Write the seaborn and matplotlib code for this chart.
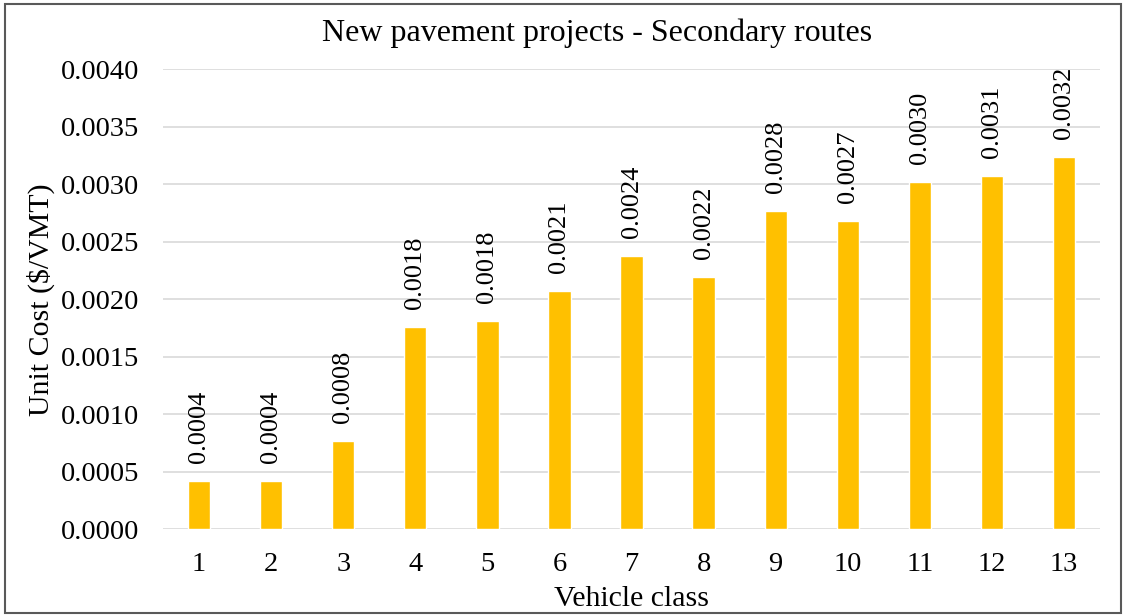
import pandas as pd
import seaborn as sns
import matplotlib.pyplot as plt
from matplotlib.patches import Rectangle

sns.set_theme(style="whitegrid")
plt.rcParams['font.family'] = ['Liberation Serif', 'DejaVu Serif']
plt.rcParams['text.color'] = 'black'
plt.rcParams['axes.labelcolor'] = 'black'

vehicle_class = ['1', '2', '3', '4', '5', '6', '7', '8', '9', '10', '11', '12', '13']
unit_cost = [0.00042, 0.00042, 0.00077, 0.00176, 0.00181, 0.00207, 0.00238,
             0.00219, 0.00277, 0.00268, 0.00302, 0.00307, 0.00324]
y_ticks = [0.0000, 0.0005, 0.0010, 0.0015, 0.0020, 0.0025, 0.0030, 0.0035, 0.0040]

df = pd.DataFrame({'Vehicle class': vehicle_class, 'Unit Cost': unit_cost})

fig = plt.figure(figsize=(11.25, 6.15), dpi=100)
ax = fig.add_axes([0.1449, 0.1393, 0.8329, 0.748])

sns.barplot(data=df, x='Vehicle class', y='Unit Cost', color='#FFC000',
            width=0.31, saturation=1, ax=ax)

# Datenbeschriftungen senkrecht über den Balken
for i, v in enumerate(unit_cost):
    ax.annotate(f'{v:.4f}', (i, v), xytext=(0, 13), textcoords='offset points',
                ha='center', va='bottom', rotation=90, fontsize=19)

ax.set_ylim(0, 0.004)
ax.set_yticks(y_ticks)
ax.set_yticklabels([f'{t:.4f}' for t in y_ticks])
ax.set_xlim(-0.5, len(vehicle_class) - 0.5)
ax.grid(axis='y', color='#d9d9d9', linewidth=1.2)
ax.grid(axis='x', visible=False)
ax.set_axisbelow(True)
for s in ax.spines.values():
    s.set_visible(False)
ax.tick_params(axis='both', length=0, labelsize=20.5, colors='black')
ax.tick_params(axis='x', pad=16)
ax.tick_params(axis='y', pad=17)

fig.text(597 / 1125, 1 - 33 / 615, 'New pavement projects - Secondary routes',
         fontsize=23, ha='center', va='center', color='black')
ax.set_xlabel('Vehicle class', fontsize=21.5, labelpad=7)
ax.set_ylabel('Unit Cost ($/VMT)', fontsize=21.5, labelpad=4)

fig.patches.append(Rectangle((5 / 1125, 2 / 615), 1116 / 1125, 609 / 615,
                             transform=fig.transFigure, fill=False,
                             edgecolor='#595959', linewidth=1.5))

fig.savefig('out.png', dpi=100)
